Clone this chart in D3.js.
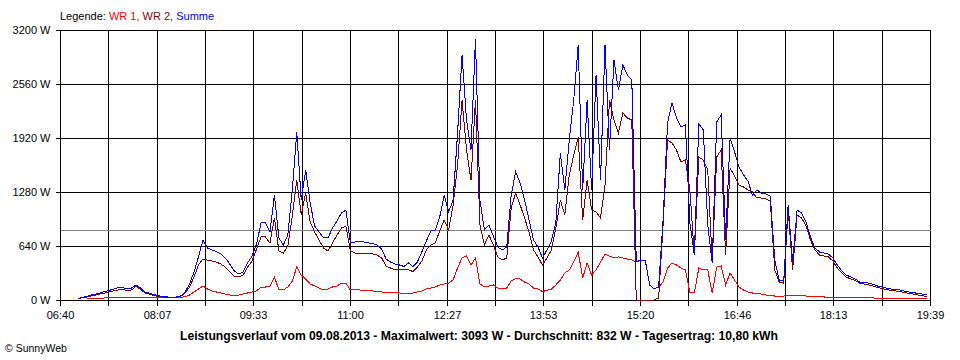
<!DOCTYPE html>
<html><head><meta charset="utf-8">
<script src="https://cdn.jsdelivr.net/npm/d3@7"></script>
<style>
body{margin:0;background:#fff;}
svg{display:block;font-family:"Liberation Sans",Arial,sans-serif;}
</style></head><body>
<svg id="chart" width="960" height="360"></svg>
<script>
// Time axis (minutes after midnight)
const startMinute = 400;   // 06:40
const endMinute = 1179;    // 19:39
const stepMinutes = 4;
const xTickLabels = ["06:40","08:07","09:33","11:00","12:27","13:53","15:20","16:46","18:13","19:39"];
const yTicks = [0, 640, 1280, 1920, 2560, 3200];
const average = 832;
const legendItems = [["WR 1,", "#ff0000"], [" WR 2,", "#800000"], [" Summe", "#0000ff"]];
const title = "Leistungsverlauf vom 09.08.2013 - Maximalwert: 3093 W - Durchschnitt: 832 W - Tagesertrag: 10,80 kWh";

// WR 1 (W), one value every 4 minutes from 06:40
const wr1 = [
 null,null,null,null,null,null,12,14,18,20,
 24,26,30,30,30,30,30,30,30,30,
 26,26,24,24,24,24,24,30,41,59,
 95,130,166,130,107,95,83,71,59,47,
 59,71,83,95,107,154,154,166,273,119,
 119,154,225,391,296,249,190,166,142,119,
 130,154,166,201,201,119,119,119,113,107,
 107,101,95,89,89,83,83,79,79,83,
 95,107,130,142,154,178,190,201,237,379,
 498,521,415,498,190,154,166,178,142,139,
 142,225,255,249,213,190,142,130,101,113,
 130,178,237,320,356,450,569,261,439,296,
 356,450,545,521,498,510,498,486,474,450,
 474,474,178,130,154,213,379,439,415,379,
 356,83,83,379,356,356,83,391,403,178,
 320,237,154,119,95,83,77,71,59,53,
 47,47,47,53,53,59,53,47,41,41,
 39,36,32,32,32,30,30,30,30,30,
 30,30,27,15,15,15,15,15,15,15,
 15,15,15,15,15
];
// WR 2 (W)
const wr2 = [
 null,null,null,null,18,26,36,47,59,71,
 83,95,107,119,124,113,119,160,130,83,
 71,53,41,36,30,26,30,41,83,154,
 273,415,486,474,462,450,427,391,332,284,
 273,296,391,462,604,747,747,676,972,581,
 557,640,996,1422,1007,1268,924,806,711,616,
 581,676,770,853,877,581,557,557,557,551,
 545,533,498,403,379,356,356,356,356,338,
 391,462,593,652,676,818,948,830,1126,1600,
 2370,1778,1422,2370,889,652,770,652,510,474,
 498,1090,1268,1126,972,806,593,510,415,498,
 593,853,1185,1007,1482,1719,1932,948,1422,1067,
 1043,972,1363,2370,2133,1979,2216,2157,2133,0,
 0,0,0,0,24,889,1896,1861,1778,1636,
 1659,1304,533,1695,1659,1541,450,1695,1778,533,
 1564,1470,1363,1339,1304,1280,1209,1209,1197,1173,
 356,213,201,1067,356,1007,972,877,711,593,
 533,521,510,462,379,320,273,249,231,201,
 190,178,166,148,136,124,113,107,101,89,
 77,71,59,53,41
];
// Summe (W)
const summe = [
 null,null,null,null,18,30,41,59,71,83,
 101,113,130,148,148,130,142,178,142,95,
 83,65,53,41,36,32,36,47,95,190,
 332,510,711,616,593,575,545,498,427,344,
 308,332,439,521,664,913,913,806,1244,735,
 652,770,1304,1991,1185,1541,1150,877,806,735,
 735,853,936,1031,1067,676,687,699,687,676,
 670,652,604,486,450,427,415,397,439,397,
 450,569,699,818,830,984,1244,1043,1185,1979,
 2904,2133,1778,3093,1185,830,889,759,628,593,
 628,1244,1517,1387,1185,948,711,628,498,593,
 699,924,1742,1304,1896,2370,3022,1304,2370,1304,
 2667,1422,3022,1778,2844,2489,2785,2667,2607,450,
 474,474,178,130,154,948,2098,2335,2157,2050,
 2074,913,533,2086,2015,889,439,2110,2193,711,
 1920,1754,1576,1482,1410,1244,1304,1268,1256,1233,
 474,237,225,1126,450,1067,1031,924,747,616,
 569,557,545,498,415,344,296,273,249,213,
 213,201,184,166,154,142,130,124,119,107,
 95,89,77,71,59
];

const svg = d3.select("#chart");
const x = d3.scaleLinear().domain([startMinute, endMinute]).range([60, 930]);
const y = d3.scaleLinear().domain([0, 3200]).range([300, 30]);
const gridX = d3.range(19).map(k => startMinute + k * (endMinute - startMinute) / 18);
const px = v => Math.round(x(v)) + 0.5;

// grid
const grid = svg.append("g").attr("stroke", "#000").attr("stroke-width", 1).attr("shape-rendering", "crispEdges");
grid.selectAll("line.v").data(gridX).join("line").attr("class", "v")
  .attr("x1", px).attr("x2", px).attr("y1", y(3200) + 0.5).attr("y2", y(0) + 0.5);
grid.selectAll("line.h").data(yTicks).join("line").attr("class", "h")
  .attr("x1", 60.5).attr("x2", 930.5).attr("y1", d => y(d) + 0.5).attr("y2", d => y(d) + 0.5);

// axes
const yAxis = svg.append("g").attr("transform", "translate(60.5,0)")
  .call(d3.axisLeft(y).tickValues(yTicks).tickSize(5).tickPadding(5).tickFormat(d => d + " W"));
const xAxis = svg.append("g").attr("transform", "translate(0,300.5)")
  .call(d3.axisBottom(x).tickValues(gridX).tickSize(5).tickPadding(6)
    .tickFormat((d, k) => k % 2 === 0 ? xTickLabels[k / 2] : ""));
[yAxis, xAxis].forEach(g => {
  g.select(".domain").remove();
  g.selectAll("line").attr("stroke", "#000").attr("shape-rendering", "crispEdges");
  g.selectAll("text").attr("font-family", "'Liberation Sans',Arial,sans-serif").attr("font-size", 11).attr("fill", "#000");
});
// snap bottom tick marks onto the grid-line pixels
xAxis.selectAll(".tick").attr("transform", d => "translate(" + px(d) + ",0)");

// average line
svg.append("line").attr("x1", 60.5).attr("x2", 930.5).attr("y1", Math.round(y(average)) + 0.5).attr("y2", Math.round(y(average)) + 0.5)
  .attr("stroke", "#808080").attr("shape-rendering", "crispEdges");

// series
const series = [[wr1, "#ff0000"], [wr2, "#800000"], [summe, "#0000ff"]];
const line = d3.line()
  .defined(d => d != null)
  .x((d, i) => x(startMinute + i * stepMinutes))
  .y(d => y(d));
series.forEach(([vals, col]) => {
  svg.append("path").datum(vals).attr("d", line).attr("fill", "none")
    .attr("stroke", col).attr("stroke-width", 1).attr("shape-rendering", "crispEdges");
});

// legend
const leg = svg.append("text").attr("x", 60).attr("y", 20).attr("font-size", 11).attr("fill", "#000");
leg.append("tspan").text("Legende: ");
legendItems.forEach(([t, c]) => leg.append("tspan").attr("fill", c).text(t));

// title
svg.append("text").attr("x", 479).attr("y", 340).attr("text-anchor", "middle")
  .attr("font-size", 12).attr("font-weight", "bold").attr("fill", "#000")
  .attr("textLength", 598).attr("lengthAdjust", "spacingAndGlyphs").text(title);

// copyright
svg.append("text").attr("x", 5).attr("y", 352).attr("font-size", 10.5).attr("fill", "#000").text("© SunnyWeb");
</script>
</body></html>
